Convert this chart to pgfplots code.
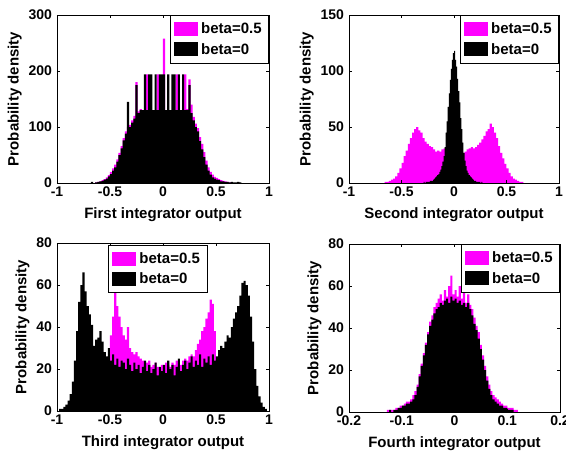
\documentclass[border=0pt]{standalone}
\usepackage{pgfplots}
\pgfplotsset{compat=1.18}
\usepackage{fontspec}
\setmainfont{Liberation Sans}
\definecolor{mag}{RGB}{255,0,255}
\pgfplotsset{
  hist/.style={
    scale only axis, width=212pt, height=168pt,
    axis on top,
    axis line style={line width=0.7pt},
    tick align=inside, major tick length=3pt,
    tick style={line width=0.6pt, black},
    tick label style={font=\fontsize{14}{16}\selectfont\bfseries},
    yticklabel style={xshift=-1.5pt},
    label style={font=\fontsize{15}{17}\selectfont\bfseries},
    xlabel style={yshift=-4pt},
    ylabel={Probability density},
    /pgf/number format/assume math mode=true,
    scaled ticks=false,
    enlargelimits=false,
    legend style={font=\fontsize{15}{17}\selectfont\bfseries, draw=black, line width=0.7pt,
      fill=white, inner xsep=4pt, inner ysep=3.5pt, row sep=0pt,
      nodes={inner xsep=3pt, inner ysep=4pt}},
    legend image code/.code={\fill[#1] (0pt,-7pt) rectangle (24pt,7pt);},
    legend cell align=left,
  },
  mbar/.style={const plot, fill=mag, draw=none},
  kbar/.style={const plot, fill=black, draw=none},
}
\begin{document}
\begin{tikzpicture}
\useasboundingbox (0,0) rectangle (566pt,-456pt);
% ---------- First integrator ----------
\begin{axis}[hist, at={(57pt,-183pt)}, anchor=south west,
  xmin=-1, xmax=1, ymin=0, ymax=300,
  xtick={-1,-0.5,0,0.5,1}, xticklabels={-1,-0.5,0,0.5,1},
  ytick={0,100,200,300},
  xlabel={First integrator output},
  legend style={at={(rel axis cs:1,1)}, anchor=north east}]
\addplot[mbar] coordinates {(-0.64,1)(-0.62,2)(-0.60,3)(-0.58,5)(-0.56,7)(-0.54,10)(-0.52,14)(-0.50,20)(-0.48,26)(-0.46,33)(-0.44,42)(-0.42,54)(-0.40,66)(-0.38,80)(-0.36,92)(-0.34,100)(-0.32,104)(-0.30,112)(-0.28,120)(-0.26,180)(-0.24,128)(-0.22,132)(-0.20,130)(-0.18,130)(-0.16,194)(-0.14,130)(-0.12,130)(-0.10,130)(-0.08,130)(-0.06,194)(-0.04,130)(-0.02,130)(0.00,258)(0.02,130)(0.04,130)(0.06,130)(0.08,130)(0.10,130)(0.12,194)(0.14,130)(0.16,130)(0.18,130)(0.20,194)(0.22,132)(0.24,185)(0.26,140)(0.28,118)(0.30,106)(0.32,98)(0.34,82)(0.36,70)(0.38,55)(0.40,40)(0.42,28)(0.44,20)(0.46,15)(0.48,11)(0.50,9)(0.52,7)(0.54,5)(0.56,4)(0.58,3)(0.60,2)(0.62,1)(0.64,0)} \closedcycle;
\addlegendentry{beta=0.5}
\addplot[kbar] coordinates {(-0.70,0)(-0.68,2)(-0.66,0)(-0.64,1)(-0.62,2)(-0.60,3)(-0.58,4)(-0.56,6)(-0.54,8)(-0.52,12)(-0.50,16)(-0.48,22)(-0.46,28)(-0.44,38)(-0.42,50)(-0.40,62)(-0.38,76)(-0.36,88)(-0.34,145)(-0.32,100)(-0.30,108)(-0.28,115)(-0.26,175)(-0.24,125)(-0.22,130)(-0.20,130)(-0.18,194)(-0.16,130)(-0.14,194)(-0.12,194)(-0.10,130)(-0.08,194)(-0.06,130)(-0.04,194)(-0.02,194)(0.00,194)(0.02,130)(0.04,194)(0.06,130)(0.08,194)(0.10,194)(0.12,130)(0.14,194)(0.16,130)(0.18,194)(0.20,130)(0.22,130)(0.24,175)(0.26,125)(0.28,112)(0.30,100)(0.32,92)(0.34,75)(0.36,60)(0.38,46)(0.40,33)(0.42,22)(0.44,15)(0.46,10)(0.48,8)(0.50,6)(0.52,5)(0.54,3)(0.56,3)(0.58,2)(0.60,2)(0.62,1)(0.64,2)(0.66,1)(0.68,1)(0.70,2)(0.72,1)(0.74,0)(0.76,0)} \closedcycle;
\addlegendentry{beta=0}
\end{axis}
% ---------- Second integrator ----------
\begin{axis}[hist, at={(349pt,-183pt)}, anchor=south west, width=210pt,
  xmin=-1, xmax=1, ymin=0, ymax=150,
  xtick={-1,-0.5,0,0.5,1}, xticklabels={-1,-0.5,0,0.5,1},
  ytick={0,50,100,150},
  xlabel={Second integrator output},
  legend style={at={(rel axis cs:1,1)}, anchor=north east}]
\addplot[mbar] coordinates {(-0.68,0)(-0.66,1)(-0.64,1)(-0.62,2)(-0.60,3)(-0.58,4)(-0.56,6)(-0.54,9)(-0.52,13)(-0.50,18)(-0.48,24)(-0.46,29)(-0.44,35)(-0.42,40)(-0.40,45)(-0.38,48)(-0.36,50)(-0.34,47)(-0.32,45)(-0.30,40)(-0.28,37)(-0.26,35)(-0.24,33)(-0.22,32)(-0.20,30)(-0.18,28)(-0.16,29)(-0.14,28)(-0.12,30)(-0.10,31)(-0.08,28)(-0.06,25)(-0.04,22)(-0.02,20)(0.00,21)(0.02,23)(0.04,25)(0.06,26)(0.08,27)(0.10,28)(0.12,30)(0.14,31)(0.16,32)(0.18,31)(0.20,32)(0.22,34)(0.24,36)(0.26,39)(0.28,42)(0.30,46)(0.32,48)(0.34,53)(0.36,50)(0.38,45)(0.40,40)(0.42,33)(0.44,27)(0.46,22)(0.48,17)(0.50,13)(0.52,9)(0.54,6)(0.56,4)(0.58,3)(0.60,2)(0.62,1)(0.64,1)(0.66,0)} \closedcycle;
\addlegendentry{beta=0.5}
\addplot[kbar] coordinates {(-0.30,0)(-0.29,1)(-0.28,0)(-0.27,1)(-0.26,1)(-0.25,1)(-0.24,1)(-0.23,2)(-0.22,2)(-0.21,2)(-0.20,3)(-0.19,4)(-0.18,5)(-0.17,6)(-0.16,7)(-0.15,8)(-0.14,10)(-0.13,12)(-0.12,15)(-0.11,19)(-0.10,24)(-0.09,32)(-0.08,45)(-0.07,55)(-0.06,68)(-0.05,80)(-0.04,92)(-0.03,102)(-0.02,110)(-0.01,116)(0.00,118)(0.01,110)(0.02,104)(0.03,93)(0.04,82)(0.05,72)(0.06,58)(0.07,48)(0.08,36)(0.09,27)(0.10,20)(0.11,15)(0.12,11)(0.13,9)(0.14,7)(0.15,6)(0.16,5)(0.17,4)(0.18,3)(0.19,2)(0.20,2)(0.21,1)(0.22,1)(0.23,1)(0.24,1)(0.25,0)(0.26,1)(0.27,0)(0.28,0)} \closedcycle;
\addlegendentry{beta=0}
\end{axis}
% ---------- Third integrator ----------
\begin{axis}[hist, at={(57pt,-411pt)}, anchor=south west,
  xmin=-1, xmax=1, ymin=0, ymax=80,
  xtick={-1,-0.5,0,0.5,1}, xticklabels={-1,-0.5,0,0.5,1},
  ytick={0,20,40,60,80},
  xlabel={Third integrator output},
  legend style={at={(rel axis cs:0.475,0.99)}, anchor=north}]
\addplot[mbar] coordinates {(-0.50,36)(-0.48,45)(-0.46,58)(-0.44,50)(-0.42,45)(-0.40,40)(-0.38,36)(-0.36,34)(-0.34,40)(-0.32,30)(-0.30,28)(-0.28,27)(-0.26,28)(-0.24,26)(-0.22,25)(-0.20,24)(-0.18,22)(-0.16,23)(-0.14,24)(-0.12,21)(-0.10,22)(-0.08,23)(-0.06,21)(-0.04,20)(-0.02,22)(0.00,21)(0.02,23)(0.04,22)(0.06,21)(0.08,23)(0.10,22)(0.12,24)(0.14,23)(0.16,22)(0.18,24)(0.20,25)(0.22,24)(0.24,26)(0.26,27)(0.28,26)(0.30,29)(0.32,32)(0.34,34)(0.36,38)(0.38,40)(0.40,44)(0.42,47)(0.44,53)(0.46,51)(0.48,38)(0.50,0)} \closedcycle;
\addlegendentry{beta=0.5}
\addplot[kbar] coordinates {(-0.98,1)(-0.96,1)(-0.94,2)(-0.92,3)(-0.90,5)(-0.88,8)(-0.86,14)(-0.84,24)(-0.82,38)(-0.80,52)(-0.78,60)(-0.76,66)(-0.74,57)(-0.72,50)(-0.70,46)(-0.68,41)(-0.66,31)(-0.64,34)(-0.62,35)(-0.60,38)(-0.58,33)(-0.56,28)(-0.54,26)(-0.52,30)(-0.50,24)(-0.48,27)(-0.46,22)(-0.44,25)(-0.42,21)(-0.40,24)(-0.38,23)(-0.36,20)(-0.34,25)(-0.32,22)(-0.30,19)(-0.28,23)(-0.26,20)(-0.24,22)(-0.22,18)(-0.20,21)(-0.18,24)(-0.16,19)(-0.14,22)(-0.12,18)(-0.10,20)(-0.08,23)(-0.06,17)(-0.04,21)(-0.02,19)(0.00,22)(0.02,18)(0.04,24)(0.06,20)(0.08,22)(0.10,17)(0.12,21)(0.14,25)(0.16,19)(0.18,22)(0.20,24)(0.22,20)(0.24,23)(0.26,26)(0.28,21)(0.30,24)(0.32,22)(0.34,27)(0.36,21)(0.38,25)(0.40,23)(0.42,26)(0.44,22)(0.46,27)(0.48,24)(0.50,26)(0.52,29)(0.54,31)(0.56,30)(0.58,33)(0.60,36)(0.62,35)(0.64,40)(0.66,44)(0.68,47)(0.70,50)(0.72,55)(0.74,61)(0.76,62)(0.78,60)(0.80,55)(0.82,45)(0.84,33)(0.86,20)(0.88,12)(0.90,7)(0.92,4)(0.94,2)(0.96,1)(0.98,0)} \closedcycle;
\addlegendentry{beta=0}
\end{axis}
% ---------- Fourth integrator ----------
\begin{axis}[hist, at={(349pt,-412pt)}, anchor=south west, width=211pt,
  xmin=-0.2, xmax=0.2, ymin=0, ymax=80,
  xtick={-0.2,-0.1,0,0.1,0.2}, xticklabels={-0.2,-0.1,0,0.1,0.2},
  ytick={0,20,40,60,80},
  xlabel={Fourth integrator output},
  legend style={at={(rel axis cs:1,1)}, anchor=north east}]
\addplot[mbar] coordinates {(-0.128,1)(-0.124,1)(-0.120,1)(-0.116,1)(-0.112,2)(-0.108,2)(-0.104,3)(-0.100,3)(-0.096,4)(-0.092,5)(-0.088,5)(-0.084,6)(-0.080,8)(-0.076,10)(-0.072,13)(-0.068,18)(-0.064,23)(-0.060,28)(-0.056,33)(-0.052,38)(-0.048,43)(-0.044,46)(-0.040,50)(-0.036,52)(-0.032,54)(-0.028,56)(-0.024,53)(-0.020,58)(-0.016,55)(-0.012,60)(-0.008,65)(-0.004,56)(0.000,58)(0.004,55)(0.008,60)(0.012,54)(0.016,57)(0.020,52)(0.024,56)(0.028,51)(0.032,49)(0.036,45)(0.040,41)(0.044,38)(0.048,32)(0.052,27)(0.056,22)(0.060,17)(0.064,13)(0.068,10)(0.072,8)(0.076,7)(0.080,6)(0.084,5)(0.088,4)(0.092,3)(0.096,3)(0.100,2)(0.104,2)(0.108,2)(0.112,1)(0.116,1)(0.120,0)} \closedcycle;
\addlegendentry{beta=0.5}
\addplot[kbar] coordinates {(-0.128,0)(-0.124,1)(-0.120,0)(-0.116,1)(-0.112,1)(-0.108,2)(-0.104,2)(-0.100,3)(-0.096,3)(-0.092,4)(-0.088,4)(-0.084,5)(-0.080,6)(-0.076,8)(-0.072,12)(-0.068,17)(-0.064,22)(-0.060,27)(-0.056,32)(-0.052,37)(-0.048,41)(-0.044,44)(-0.040,47)(-0.036,49)(-0.032,50)(-0.028,52)(-0.024,51)(-0.020,53)(-0.016,54)(-0.012,52)(-0.008,55)(-0.004,53)(0.000,54)(0.004,52)(0.008,53)(0.012,51)(0.016,52)(0.020,50)(0.024,52)(0.028,49)(0.032,46)(0.036,42)(0.040,39)(0.044,35)(0.048,30)(0.052,25)(0.056,20)(0.060,15)(0.064,11)(0.068,8)(0.072,6)(0.076,5)(0.080,4)(0.084,3)(0.088,3)(0.092,2)(0.096,2)(0.100,1)(0.104,1)(0.108,1)(0.112,0)(0.116,0)} \closedcycle;
\addlegendentry{beta=0}
\end{axis}
\end{tikzpicture}
\end{document}
